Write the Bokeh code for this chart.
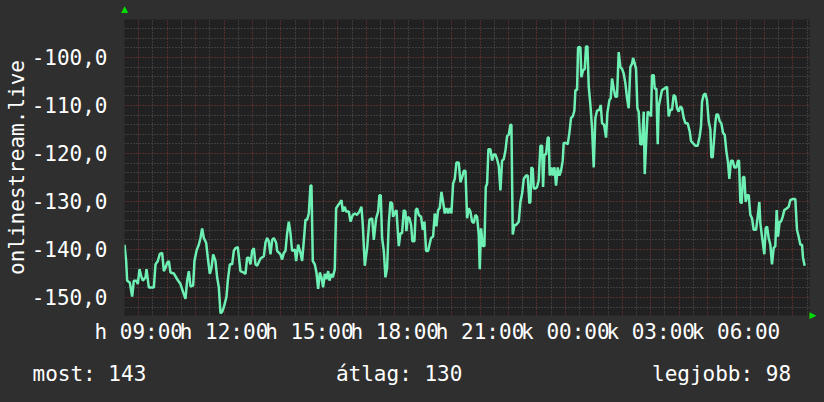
from bokeh.plotting import figure
from bokeh.models import FixedTicker, Range1d, Title, LinearAxis, GlobalInlineStyleSheet
from bokeh.embed import file_html
from bokeh.resources import INLINE

# time in minutes since 08:30 (monday), signal value
minutes = [
    0.0, 3.5, 5.6, 11.2, 16.2, 19.7, 25.3, 28.1, 31.6, 35.1, 38.7, 44.3, 46.4, 51.3, 61.9, 65.4,
    70.3, 74.5, 79.4, 83.0, 86.5, 90.0, 93.5, 97.0, 104.0, 111.1, 118.1, 123.7, 128.6, 132.2,
    135.7, 139.2, 144.8, 147.6, 151.8, 156.8, 160.3, 163.8, 167.3, 172.2, 175.7, 180.0, 183.5,
    187.0, 191.9, 195.4, 199.0, 202.5, 206.0, 209.5, 215.1, 217.9, 222.2, 227.1, 230.6, 234.1,
    239.0, 244.6, 251.7, 255.2, 258.7, 262.2, 265.7, 269.3, 272.8, 276.3, 279.8,
    286.8, 293.9, 297.4, 300.9, 304.4, 307.9, 311.5, 315.0, 319.9, 322.0, 329.0, 332.5, 336.1,
    339.6, 343.1, 346.6, 350.1, 353.6, 359.3, 362.1, 366.3, 371.2, 374.7, 378.2, 381.8, 385.3,
    388.8, 392.3, 394.4, 397.2, 401.4, 404.9, 408.5, 412.0, 415.5, 419.0, 422.5, 426.0, 429.6,
    432.4, 436.6, 439.4, 443.6, 446.4, 450.6, 453.5, 457.7, 460.5, 464.7, 467.5, 473.1, 476.7,
    481.6, 485.8, 490.7, 495.6, 499.9, 502.7, 506.9, 511.8, 516.7, 522.4, 525.9, 530.8, 535.0,
    537.8, 540.6, 543.4, 547.0, 550.5, 554.0, 557.5, 561.0, 564.5,
    566.6, 571.5, 573.7, 576.5, 578.6, 582.1, 585.6, 589.1, 592.6, 594.7, 597.6, 601.1, 604.6,
    607.4, 611.6, 614.4, 617.2, 620.8, 625.7, 629.2, 632.7, 636.2, 640.4, 643.3, 646.8, 651.0,
    654.5, 658.0, 661.5, 665.0, 668.6, 672.1, 675.6, 679.1, 682.6, 686.1, 689.6, 693.2, 696.7,
    700.2, 705.1, 708.6, 712.1, 715.7, 719.2, 722.7, 726.2, 729.7, 733.2, 736.8, 740.3, 743.8,
    747.3, 749.4, 752.2, 755.7, 759.2, 762.1, 764.9, 767.7, 771.9, 775.4, 778.9, 782.4, 786.0,
    789.5, 793.0, 796.5, 800.0, 803.5, 807.1, 810.6, 814.1, 816.2, 819.0, 822.5, 826.0, 831.7,
    835.2, 838.7, 842.2, 847.1, 850.6,
    854.1, 856.2, 858.4, 861.2, 863.3, 866.8, 870.3, 873.8, 877.3, 880.9, 883.0, 885.8, 889.3,
    892.8, 894.9, 897.0, 900.5, 903.3, 906.9, 910.4, 913.9, 917.4, 920.9, 924.4, 926.5, 931.5,
    935.0, 938.5, 942.0, 945.5, 949.0, 951.2, 954.7, 956.8, 961.7, 963.8, 967.3, 970.8, 973.6,
    976.5, 979.3, 982.8, 986.3, 989.8, 993.3, 996.8, 1001.8, 1004.6, 1007.4, 1011.6, 1015.8,
    1018.6, 1022.9, 1025.7, 1028.5, 1032.0, 1035.5, 1039.0, 1042.5, 1046.1, 1049.6, 1053.1,
    1056.6, 1060.1, 1063.6, 1067.1, 1070.7, 1072.8, 1076.3, 1079.1, 1081.9, 1084.7, 1088.2,
    1091.7, 1095.3, 1097.4, 1100.9, 1103.7, 1107.2, 1110.7, 1112.8, 1116.4, 1118.5, 1122.0,
    1124.8, 1126.9,
    1133.9, 1138.8, 1144.5, 1148.0, 1151.5, 1155.0, 1158.5, 1162.0, 1165.6, 1169.1, 1172.6,
    1176.1, 1179.6, 1183.1, 1188.0, 1192.3, 1195.1, 1198.6, 1204.2, 1209.1, 1213.4, 1216.2,
    1218.3, 1221.8, 1225.3, 1228.8, 1232.3, 1235.9, 1238.0, 1240.8, 1242.9, 1246.4, 1248.5,
    1252.0, 1255.5, 1259.0, 1262.6, 1266.1, 1269.6, 1273.1, 1275.9, 1279.4, 1282.9, 1286.5,
    1290.7, 1294.2, 1296.3, 1299.1, 1301.9, 1304.7, 1307.6, 1310.4, 1313.2, 1316.7, 1320.2,
    1323.7, 1327.2, 1332.2, 1335.7, 1339.2, 1341.3, 1344.8, 1349.7, 1352.5, 1355.4, 1358.9,
    1362.4, 1365.9, 1369.4, 1372.9, 1375.7, 1378.6, 1382.1, 1384.9, 1388.4, 1391.9, 1396.1,
    1401.1, 1404.6, 1409.5, 1415.1, 1418.6, 1422.1, 1425.7, 1429.2, 1431.3, 1434.8,
]
values = [
    -139.0, -142.4, -146.5, -146.9, -149.8, -146.5, -146.5, -147.2, -144.1, -145.5, -146.5, -145.8,
    -144.1, -147.9, -147.9, -143.1, -142.4, -140.9, -140.7, -144.5, -143.8, -142.8, -142.4, -144.8,
    -145.0, -146.2, -147.2, -148.9, -150.3, -146.5, -144.5, -147.7, -147.5, -142.4, -140.3, -139.0,
    -137.6, -135.6, -137.6, -138.6, -141.7, -145.1, -143.8, -141.0, -142.4, -145.8, -147.9, -153.3,
    -153.0, -152.0, -149.9, -146.5, -143.1, -143.1, -140.3, -139.7, -139.5, -144.5, -144.8, -145.1,
    -141.7, -141.7, -143.1, -140.3, -139.7, -143.1, -143.4,
    -141.9, -141.4, -138.6, -137.6, -138.3, -141.0, -138.0, -137.6, -138.6, -140.3, -141.0, -142.1,
    -140.7, -140.3, -136.6, -134.2, -136.6, -140.3, -140.0, -142.4, -139.0, -140.7, -142.4, -138.3,
    -133.8, -133.8, -132.5, -126.7, -126.7, -142.4, -143.1, -144.8, -148.2, -144.8, -145.8, -147.9,
    -145.1, -146.2, -144.5, -146.5, -145.1, -145.8, -144.1, -131.4, -130.8, -130.4, -129.7, -132.1,
    -131.1, -132.1, -132.1, -134.2, -132.8, -132.5, -132.8, -132.1, -131.1, -134.9, -143.4, -139.7,
    -133.8, -133.5, -138.0, -133.5, -132.1, -128.7, -128.7, -137.6, -140.3, -145.8, -143.8, -134.5,
    -130.1, -130.4,
    -133.2, -132.1, -131.8, -136.2, -139.3, -136.6, -136.6, -131.8, -132.1, -136.2, -133.2, -133.5,
    -134.9, -138.3, -138.3, -131.8, -131.4, -132.8, -133.2, -135.9, -134.2, -140.3, -140.3, -139.0,
    -137.6, -137.3, -132.5, -135.2, -131.8, -131.4, -128.0, -130.1, -132.5, -131.4, -132.5, -131.4,
    -132.5, -126.3, -125.3, -121.9, -121.9, -126.0, -125.0, -123.6, -123.6, -133.5, -131.4, -132.1,
    -134.2, -134.5, -132.8, -133.2, -136.9, -144.1, -135.6, -139.3, -139.3, -127.0, -126.3, -119.1,
    -119.1, -121.5, -120.2, -120.2, -121.2, -122.6, -127.7, -121.5, -121.2, -119.5, -116.4, -116.1,
    -114.0, -114.0, -136.9, -134.9, -134.9, -134.2, -130.1, -128.4, -125.3, -124.6, -124.6,
    -130.4, -130.1, -122.9, -123.2, -127.3, -127.3, -127.0, -125.6, -118.4, -118.4, -127.0, -120.2,
    -120.2, -116.7, -116.7, -124.6, -122.9, -124.6, -122.9, -126.7, -122.9, -124.6, -123.6, -121.5,
    -117.8, -117.8, -118.1, -115.7, -112.6, -112.3, -111.1, -106.8, -106.8, -97.9, -97.9, -104.1,
    -102.7, -102.4, -97.7, -97.7, -106.1, -109.9, -114.7, -122.9, -112.6, -111.1, -110.9, -109.9,
    -113.7, -114.0, -116.7, -111.6, -108.9, -108.5, -104.4, -106.5, -108.2, -108.2, -98.9, -102.0,
    -102.4, -103.4, -105.4, -108.5, -110.6, -102.0, -101.3, -100.1, -101.3, -102.4, -110.6, -111.3,
    -118.1, -118.1, -111.3, -124.3, -116.7, -111.3, -111.6, -112.3, -103.7, -103.7, -106.5, -106.5,
    -118.1, -110.2,
    -106.8, -106.5, -106.1, -112.3, -110.9, -110.9, -107.8, -108.2, -110.6, -111.3, -110.2, -110.6,
    -112.6, -113.7, -113.7, -115.4, -117.4, -117.8, -118.4, -118.4, -116.4, -114.3, -109.2, -107.8,
    -107.5, -108.9, -113.3, -115.0, -120.8, -120.8, -118.1, -113.7, -111.9, -111.9, -113.3, -113.7,
    -115.7, -116.1, -119.5, -121.9, -125.3, -121.5, -121.5, -122.9, -122.9, -121.5, -121.5, -130.1,
    -130.4, -124.9, -124.9, -130.1, -128.7, -128.7, -132.8, -133.5, -135.9, -135.9, -133.2, -130.1,
    -134.5, -137.3, -141.0, -135.6, -135.2, -137.6, -139.0, -143.1, -139.7, -139.3, -131.8, -137.3,
    -134.2, -134.2, -133.2, -131.8, -131.5, -131.1, -129.7, -129.5, -129.5, -135.9, -137.3, -139.0,
    -139.0, -141.7, -143.4,
]

label_minutes = [30, 210, 390, 570, 750, 930, 1110, 1290]
label_texts = ["h 09:00", "h 12:00", "h 15:00", "h 18:00", "h 21:00", "k 00:00", "k 03:00", "k 06:00"]
y_ticks = [-150, -140, -130, -120, -110, -100]
y_texts = ["-150,0", "-140,0", "-130,0", "-120,0", "-110,0", "-100,0"]
y_title = "onlinestream.live"
stat_texts = ["most: 143", "átlag: 130", "legjobb: 98"]

FONT = "DejaVu Sans Mono"
FS = "21px"
TXT = "#ffffff"
ARROW = "#00dd00"
X0, X1 = 0, 1445
Y0, Y1 = -153.75, -92.1

p = figure(width=824, height=402, output_backend="svg", toolbar_location=None,
           x_range=Range1d(X0, X1), y_range=Range1d(Y0, Y1),
           min_border_left=124, min_border_right=15, min_border_top=15, min_border_bottom=87,
           background_fill_color="#212121", border_fill_color="#2f2f2f",
           outline_line_color=None)
p.stylesheets = [GlobalInlineStyleSheet(css="body { background: #2f2f2f; margin: 0; }")]

# x axis
p.xaxis.ticker = FixedTicker(ticks=label_minutes)
p.xaxis.major_label_overrides = {m: t for m, t in zip(label_minutes, label_texts)}
p.xaxis.axis_line_color = None
p.xaxis.major_tick_line_color = None
p.xaxis.minor_tick_line_color = None
p.xaxis.major_label_text_font = FONT
p.xaxis.major_label_text_font_size = FS
p.xaxis.major_label_text_color = TXT
p.xaxis.major_label_standoff = -2

# y axis
p.yaxis.ticker = FixedTicker(ticks=y_ticks)
p.yaxis.major_label_overrides = {v: t for v, t in zip(y_ticks, y_texts)}
p.yaxis.axis_line_color = None
p.yaxis.major_tick_line_color = None
p.yaxis.minor_tick_line_color = None
p.yaxis.major_label_text_font = FONT
p.yaxis.major_label_text_font_size = FS
p.yaxis.major_label_text_color = TXT
p.yaxis.major_label_standoff = 11
p.yaxis.axis_label = y_title
p.yaxis.axis_label_text_font = FONT
p.yaxis.axis_label_text_font_size = FS
p.yaxis.axis_label_text_font_style = "normal"
p.yaxis.axis_label_text_color = TXT
p.yaxis.axis_label_standoff = 0

# grids
hour_ticks = list(range(30, 1445, 60))
half_ticks = list(range(0, 1445, 60))
p.xgrid.ticker = FixedTicker(ticks=hour_ticks, minor_ticks=half_ticks)
p.ygrid.ticker = FixedTicker(ticks=y_ticks, minor_ticks=[v for v in range(-152, -92, 2) if v % 10 != 0])
for g in (p.xgrid[0], p.ygrid[0]):
    g.grid_line_color = "#8a3a3a"
    g.grid_line_dash = "1 2"
    g.grid_line_width = 1
    g.minor_grid_line_color = "#5a5a5a"
    g.minor_grid_line_dash = "1 2"
    g.minor_grid_line_width = 1

p.line(minutes, values, line_color="#6ef0b4", line_width=2.5)

# axis arrows (drawn as axis labels so they sit outside the frame)
top_arrow = LinearAxis(ticker=FixedTicker(ticks=[X0 + 0.5]), major_label_overrides={X0 + 0.5: "▲"},
                       axis_line_color=None, major_tick_line_color=None, minor_tick_line_color=None,
                       major_label_standoff=0, major_label_text_color=ARROW,
                       major_label_text_font="DejaVu Sans", major_label_text_font_size="9px")
p.add_layout(top_arrow, "above")
right_arrow = LinearAxis(ticker=FixedTicker(ticks=[Y0 + 0.05]), major_label_overrides={Y0 + 0.05: "▶"},
                         axis_line_color=None, major_tick_line_color=None, minor_tick_line_color=None,
                         major_label_standoff=-6, major_label_text_color=ARROW,
                         major_label_text_font="DejaVu Sans", major_label_text_font_size="9px")
p.add_layout(right_arrow, "right")

# statistics row
NB = "\u00a0"
stats_line = stat_texts[0] + NB * 15 + stat_texts[1] + NB * 15 + stat_texts[2]
p.add_layout(Title(text=stats_line, align="left", offset=-92, standoff=27,
                   text_font=FONT, text_font_size=FS, text_font_style="normal",
                   text_color=TXT), "below")

open("out.html", "w").write(file_html(p, INLINE))
